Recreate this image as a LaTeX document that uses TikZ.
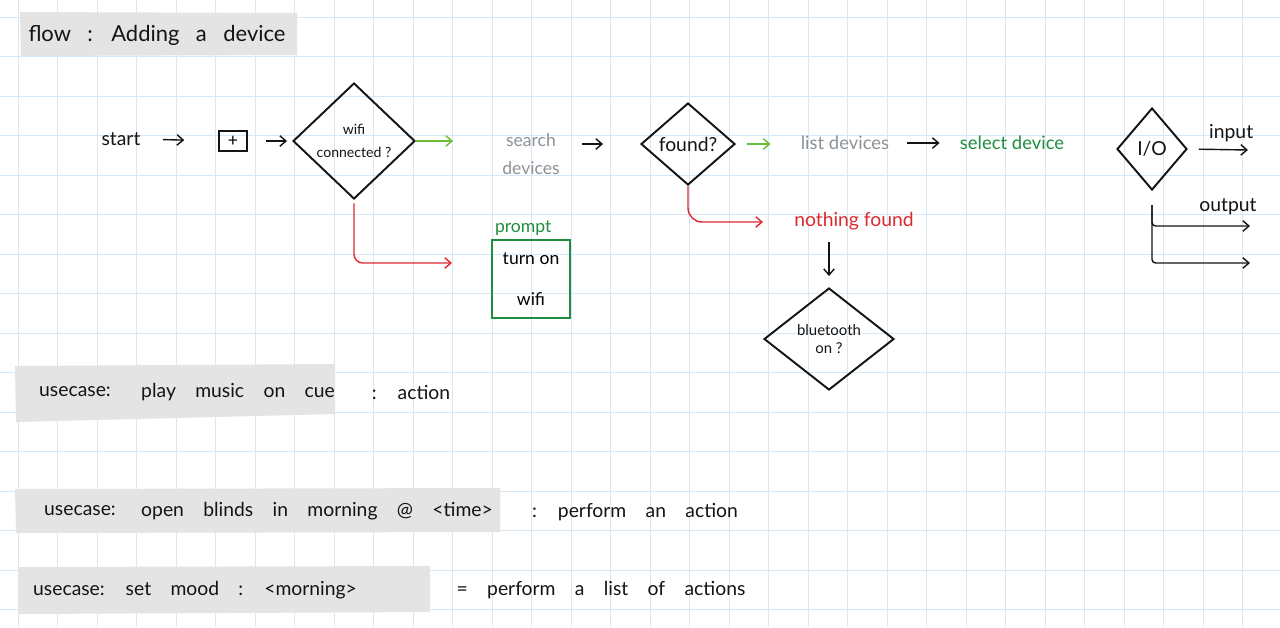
\documentclass[tikz,border=0pt]{standalone}
\usepackage{fontspec}
\setmainfont{Lato}
\usepackage{xcolor}
\usepackage{tikz}
\usetikzlibrary{shapes.geometric, arrows.meta, positioning, backgrounds, calc}
\pgfdeclarelayer{arrows}
\pgfsetlayers{background,arrows,main}
\definecolor{gridblue}{HTML}{D6E7F5}
\definecolor{notegray}{HTML}{E4E4E4}
\definecolor{ink}{HTML}{141414}
\definecolor{penciled}{HTML}{8C9297}
\definecolor{okgreen}{HTML}{1E8E3E}
\definecolor{limeink}{HTML}{6CBD35}
\definecolor{nored}{HTML}{DC2A2F}
\newcommand{\wide}[1]{\spaceskip=#1\relax}
\tikzset{
  hand/.style={font=\fontsize{11}{13}\selectfont, text=ink, inner sep=0pt, align=center},
  hand/note/.style={font=\fontsize{11}{13}\selectfont\wide{1em}, text=ink, inner sep=0pt},
  hand/title/.style={font=\fontsize{12.5}{14}\selectfont\wide{0.75em}, text=ink, inner sep=0pt},
  dec/.style={diamond, draw=ink, line width=1.1pt, inner sep=0pt, align=center, text=ink},
  btn/.style={rectangle, draw=ink, line width=0.9pt, inner sep=0pt, minimum width=0.56cm,
    minimum height=0.4cm, font=\fontsize{10}{12}\selectfont},
  promptbox/.style={rectangle, draw=okgreen, line width=1pt, minimum width=1.56cm,
    minimum height=1.56cm, align=center, font=\fontsize{10}{23}\selectfont, inner sep=0pt},
  ar/.style={-{Straight Barb[length=3.5pt, width=6pt]}, draw=ink, line width=0.8pt},
  ar/yes/.style={ar, draw=limeink},
  ar/no/.style={ar, draw=nored, rounded corners=5pt},
  gridln/.style={draw=gridblue, line width=0.5pt},
  sheet/.style={fill=notegray},
}

\begin{document}
\begin{tikzpicture}[x=0.02cm, y=-0.02cm, every node/.style={font=\fontsize{11}{13}\selectfont}]
\useasboundingbox (0,0) rectangle (1280,627);

\node[hand/title] (title) at (157,35) {flow : Adding a device};

\node[hand] (start) at (121,139) {start};
\node[btn] (plus) at (233,141) {+};
\node[dec, font=\fontsize{8}{13}\selectfont, minimum width=2.44cm, minimum height=2.32cm] (wifi) at (354,141) {wifi\\connected ?};
\node[hand, text=penciled, font=\fontsize{10}{16}\selectfont] (search) at (531,154) {search\\devices};
\node[dec, font=\fontsize{11}{13}\selectfont, minimum width=1.88cm, minimum height=1.64cm] (found) at (688,144) {found?};
\node[hand, text=penciled, font=\fontsize{10.5}{13}\selectfont] (list) at (845,143) {list devices};
\node[hand, text=okgreen, font=\fontsize{10.5}{13}\selectfont] (select) at (1012,143) {select device};

\node[dec, font=\fontsize{11}{13}\selectfont, minimum width=1.4cm, minimum height=1.64cm] (io) at (1152,149) {I/O};
\coordinate (inend) at (1248,150);
\coordinate (outtop) at (1152,205);
\coordinate (outA) at (1250,226);
\coordinate (outB) at (1250,263);
\node[hand] (outlbl) at (1228,207) {output};

\node[promptbox] (prompt) at (531,279) {turn on\\wifi};
\node[hand, text=okgreen, font=\fontsize{10}{12}\selectfont, above right=2pt and 2pt of prompt.north west] (promptlbl) {prompt};
\coordinate (wifino) at (452,263);

\coordinate (foundno) at (763,222);
\node[hand, text=nored] (nothing) at (854,221) {nothing found};
\node[dec, font=\fontsize{8.5}{10.5}\selectfont, minimum width=2.6cm, minimum height=2.04cm] (bt) at (829,339) {bluetooth\\on ?};

\node[hand/note] (uc1) at (75,392) {usecase:};
\node[hand/note] (uc1act) at (238,392) {play music on cue};
\node[hand/note] (uc1res) at (411,392) {: action};
\node[hand/note] (uc2) at (80,511) {usecase:};
\node[hand/note] (uc2act) at (317,511) {open blinds in morning @ <time>};
\node[hand/note] (uc2res) at (635,512) {: perform an action};
\node[hand/note] (uc3) at (195,590) {usecase: set mood : <morning>};
\node[hand/note] (uc3res) at (601,590) {= perform a list of actions};

\begin{scope}[on background layer]
  \fill[white] (0,0) rectangle (1280,627);
  \foreach \gx in {18,57.5,...,1280} {\draw[gridln] (\gx,0) -- (\gx,627);}
  \foreach \gy in {17,56.5,...,627} {\draw[gridln] (0,\gy) -- (1280,\gy);}
  \fill[sheet] (20,12) -- (297,13) -- (297,55) -- (21,56) -- cycle;
  \fill[sheet] (15,366) -- (335,364) -- (335,414) -- (16,422) -- cycle;
  \fill[sheet] (15,489) -- (500,488) -- (500,532) -- (16,533) -- cycle;
  \fill[sheet] (18,567) -- (430,566) -- (430,612) -- (19,614) -- cycle;
\end{scope}

\begin{pgfonlayer}{arrows}
\draw[ar, shorten <=0.44cm, shorten >=0.68cm] (start.east) -- (plus.west);
\draw[ar, shorten <=0.36cm, shorten >=0.1cm] (plus.east) -- (wifi.west);
\draw[ar/yes, shorten >=0.98cm] (wifi.east) -- (wifi.east -| search.west);
\draw[ar, shorten <=0.44cm, shorten >=0.74cm] (search.east |- found.west) -- (found.west);
\draw[ar/yes, shorten <=0.22cm, shorten >=0.6cm] (found.east) -- (found.east -| list.west);
\draw[ar, shorten <=0.34cm, shorten >=0.4cm] (list.east) -- (select.west);
\draw[ar, shorten <=0.22cm] (io.east) -- node[hand, above=4pt, pos=0.72] (inlbl) {input} (inend);
\draw[ar, rounded corners=2pt] (outtop) |- (outA);
\draw[ar, rounded corners=2pt] (outtop) |- (outB);
\draw[ar/no, shorten <=2pt] (wifi.south) |- (wifino);
\draw[ar/no, rounded corners=8pt] (found.south) |- (foundno);
\draw[ar, shorten <=0.24cm, shorten >=0.22cm] (bt.north |- nothing.south) -- (bt.north);
\end{pgfonlayer}

\end{tikzpicture}
\end{document}
